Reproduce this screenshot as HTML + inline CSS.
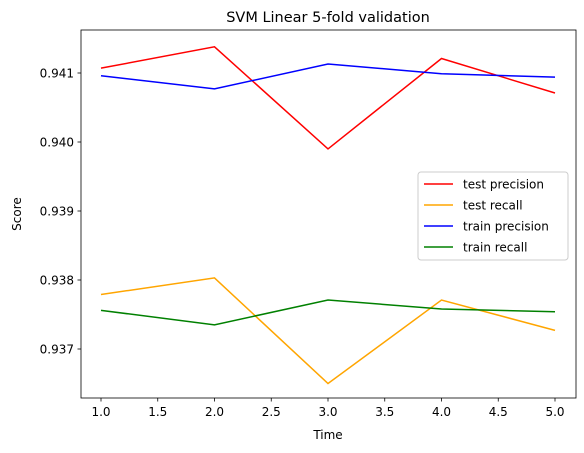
<!DOCTYPE html>
<html><head><meta charset="utf-8"><style>
body{margin:0;background:#fff}
svg{font-family:"DejaVu Sans","Liberation Sans",sans-serif;display:block}
</style></head><body>
<svg id="chart" width="584" height="453">
<rect width="584" height="453" fill="#fff"/>
<text x="328" y="22" font-size="14.5" text-anchor="middle">SVM Linear 5-fold validation</text>
<g id="plot"></g>
<text x="328" y="439" font-size="12" text-anchor="middle">Time</text>
<text x="21" y="214" font-size="12" text-anchor="middle" transform="rotate(-90 21 214)">Score</text>
</svg>
<script>
const xs=[1,2,3,4,5];
const testPrecision=[0.94107,0.94138,0.93990,0.94121,0.94071];
const testRecall=[0.93779,0.93803,0.93650,0.93771,0.93727];
const trainPrecision=[0.94096,0.94077,0.94113,0.94099,0.94094];
const trainRecall=[0.93756,0.93735,0.93771,0.93758,0.93754];
const xTicks=[1.0,1.5,2.0,2.5,3.0,3.5,4.0,4.5,5.0];
const yTicks=[0.937,0.938,0.939,0.940,0.941];
const seriesNames=["test precision","test recall","train precision","train recall"];
const seriesColors=["red","orange","blue","green"];
const L=81,R=576,T=30,B=398;
const X=v=>101+(v-1)*113.5;
const Y=v=>349-(v-0.937)*69000;
const ns="http://www.w3.org/2000/svg";
const g=document.getElementById('plot');
function mk(t,a){const e=document.createElementNS(ns,t);for(const k in a)e.setAttribute(k,a[k]);g.appendChild(e);return e;}
[testPrecision,testRecall,trainPrecision,trainRecall].forEach((s,i)=>{
 const p=mk('polyline',{points:s.map((v,j)=>X(xs[j])+','+Y(v)).join(' '),fill:'none',stroke:seriesColors[i],'stroke-width':1.5});
 
 
});
const f=mk('rect',{x:L,y:T,width:R-L,height:B-T,fill:'none',stroke:'#000','stroke-width':0.8});


xTicks.forEach(t=>{
 mk('line',{x1:X(t),x2:X(t),y1:B,y2:B+3.5,stroke:'#000','stroke-width':0.8});
 const e=mk('text',{x:X(t),y:B+18,'font-size':12,'text-anchor':'middle'});e.textContent=t.toFixed(1);
 
 
});
yTicks.forEach(t=>{
 mk('line',{x1:L-3.5,x2:L,y1:Y(t),y2:Y(t),stroke:'#000','stroke-width':0.8});
 const e=mk('text',{x:L-7,y:Y(t)+4.5,'font-size':12,'text-anchor':'end'});e.textContent=t.toFixed(3);
 
 
});
const lg=mk('rect',{x:418,y:172,width:150,height:88,rx:3,fill:'#fff',stroke:'#ccc','stroke-width':1});


seriesNames.forEach((n,i)=>{
 const y=184+i*21;
 mk('line',{x1:424,x2:453,y1:y,y2:y,stroke:seriesColors[i],'stroke-width':1.5});
 const e=mk('text',{x:463,y:y+4.5,'font-size':12}); e.textContent=n;
 
 
});
</script>
</body></html>
